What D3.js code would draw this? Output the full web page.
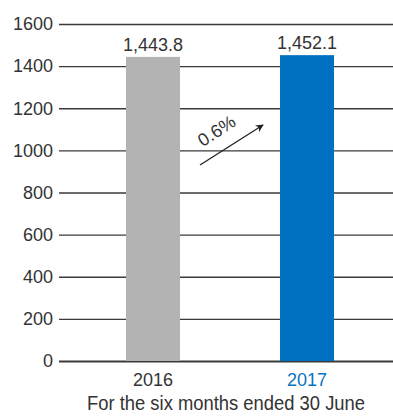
<!DOCTYPE html>
<html>
<head>
<meta charset="utf-8">
<script src="https://cdn.jsdelivr.net/npm/d3@7"></script>
<style>
  html, body { margin: 0; padding: 0; background: #fff; }
  svg { display: block; font-family: "Liberation Sans", Arial, sans-serif; }
</style>
</head>
<body>
<svg id="chart" width="393" height="419"></svg>
<script>
// Revenue for the six months ended 30 June
const years = ["2016", "2017"];
const values = [1443.8, 1452.1];
const valueLabels = ["1,443.8", "1,452.1"];
const barColors = ["#b3b3b3", "#0070c0"];
const yearColors = ["#333333", "#0a74c2"];
const yTicks = [0, 200, 400, 600, 800, 1000, 1200, 1400, 1600];
const growthLabel = "0.6%";
const caption = "For the six months ended 30 June";

const svg = d3.select("#chart");
const plotLeft = 59, plotRight = 393, plotTop = 24, plotBottom = 361;
const labelFont = "Liberation Sans, Arial, sans-serif";

const y = d3.scaleLinear().domain([0, 1600]).range([plotBottom, plotTop]);
const x = d3.scaleBand().domain(years).range([49, 411]).paddingInner(0.6494).paddingOuter(0.5);

// gridlines + tick labels
const axis = d3.axisLeft(y).tickValues(yTicks).tickFormat(d3.format("d"))
  .tickSize(-(plotRight - plotLeft)).tickPadding(6);
const g = svg.append("g").attr("transform", `translate(${plotLeft},0)`).call(axis);
g.select(".domain").remove();
g.selectAll(".tick line").attr("stroke", "#3a3a3a").attr("stroke-width", 1.3);
g.selectAll(".tick").filter(d => d === 0).select("line").attr("stroke-width", 2);
g.selectAll(".tick text").attr("fill", "#333").attr("font-size", 18).attr("font-family", labelFont);

// bars
svg.selectAll("rect.bar").data(values).join("rect")
  .attr("class", "bar")
  .attr("x", (d, i) => x(years[i]))
  .attr("width", x.bandwidth())
  .attr("y", d => y(d))
  .attr("height", d => y(0) - y(d))
  .attr("fill", (d, i) => barColors[i]);

// value labels
svg.selectAll("text.val").data(values).join("text")
  .attr("class", "val")
  .attr("x", (d, i) => x(years[i]) + x.bandwidth() / 2)
  .attr("y", d => y(d) - 6)
  .attr("text-anchor", "middle")
  .attr("font-size", 18)
  .attr("fill", "#333")
  .text((d, i) => valueLabels[i]);

// year labels
svg.selectAll("text.year").data(years).join("text")
  .attr("class", "year")
  .attr("x", d => x(d) + x.bandwidth() / 2)
  .attr("y", 386)
  .attr("text-anchor", "middle")
  .attr("font-size", 18)
  .attr("fill", (d, i) => yearColors[i])
  .text(d => d);

// growth arrow
svg.append("defs").append("marker")
  .attr("id", "arrowhead")
  .attr("viewBox", "0 0 10 10")
  .attr("refX", 9).attr("refY", 5)
  .attr("markerWidth", 8).attr("markerHeight", 8)
  .attr("markerUnits", "userSpaceOnUse")
  .attr("orient", "auto")
  .append("path").attr("d", "M0,0 L10,5 L0,10 L3,5 Z").attr("fill", "#222");

svg.append("line")
  .attr("x1", 200).attr("y1", 165)
  .attr("x2", 263).attr("y2", 125)
  .attr("stroke", "#222").attr("stroke-width", 1.3)
  .attr("marker-end", "url(#arrowhead)");

svg.append("text")
  .attr("transform", "translate(220,136) rotate(-33)")
  .attr("text-anchor", "middle")
  .attr("font-size", 18)
  .attr("fill", "#333")
  .text(growthLabel);

// caption
svg.append("text")
  .attr("x", 226).attr("y", 410)
  .attr("text-anchor", "middle")
  .attr("font-size", 20)
  .attr("font-family", "Liberation Sans, Arial, sans-serif")
  .attr("textLength", 278)
  .attr("lengthAdjust", "spacingAndGlyphs")
  .attr("fill", "#333")
  .text(caption);
</script>
</body>
</html>
